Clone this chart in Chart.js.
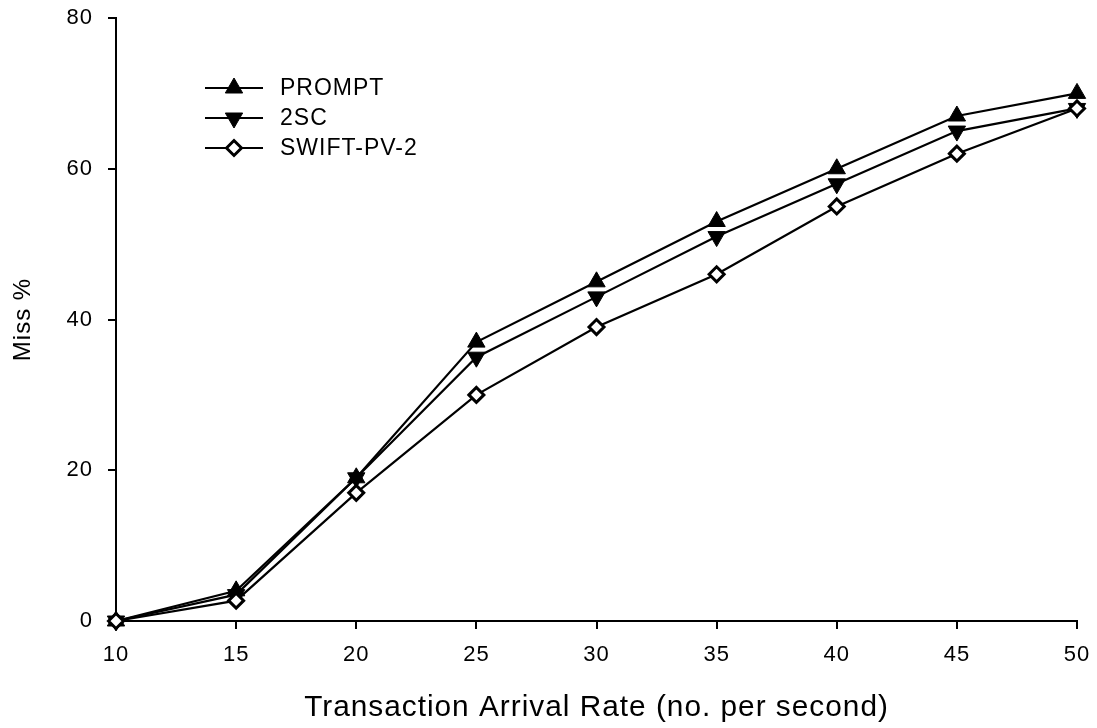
<!DOCTYPE html>
<html>
<head>
<meta charset="utf-8">
<script src="https://cdn.jsdelivr.net/npm/chart.js@4/dist/chart.umd.min.js"></script>
<style>
  body { margin: 0; background: #fff; }
  #wrap { width: 1097px; height: 728px; }
</style>
</head>
<body>
<div id="wrap"><canvas id="myChart" width="1097" height="728"></canvas></div>
<script>
// arrival rates (no. per second)
const rates = [10, 15, 20, 25, 30, 35, 40, 45, 50];
const seriesNames = ['PROMPT', '2SC', 'SWIFT-PV-2'];
const prompt = [0, 4, 19, 37, 45, 53, 60, 67, 70];
const twoSC = [0, 3.5, 19, 35, 43, 51, 58, 65, 68];
const swift = [0, 2.7, 17, 30, 39, 46, 55, 62, 68];
const yTicks = [0, 20, 40, 60, 80];

const fontFamily = '"Liberation Sans", Arial, Helvetica, sans-serif';

function toPoints(values) {
    return rates.map(function (r, i) { return { x: r, y: values[i] }; });
}

// the scanned figure has slightly wide letter spacing
const spacing = {
    id: 'spacing',
    beforeDraw(chart) {
        chart.ctx.letterSpacing = '1px';
    }
};

// legend drawn inside the plot: line segment + marker + label
const insideLegend = {
    id: 'insideLegend',
    afterDraw(chart) {
        const ctx = chart.ctx;
        const area = chart.chartArea;
        const x0 = area.left + 89;
        const y0 = area.top + 70;
        ctx.save();
        chart.data.datasets.forEach(function (ds, i) {
            const y = y0 + i * 30;
            ctx.strokeStyle = '#000';
            ctx.lineWidth = ds.borderWidth;
            ctx.beginPath();
            ctx.moveTo(x0, y);
            ctx.lineTo(x0 + 58, y);
            ctx.stroke();
            ctx.fillStyle = ds.pointBackgroundColor;
            ctx.strokeStyle = ds.pointBorderColor;
            ctx.lineWidth = ds.pointBorderWidth;
            Chart.helpers.drawPoint(ctx, {
                pointStyle: ds.pointStyle,
                rotation: ds.pointRotation || 0,
                radius: ds.pointRadius,
                borderWidth: ds.pointBorderWidth
            }, x0 + 29, y);
            ctx.fillStyle = '#000';
            ctx.font = '23px ' + fontFamily;
            ctx.textBaseline = 'middle';
            ctx.textAlign = 'left';
            ctx.fillText(ds.label, x0 + 75, y + 1);
        });
        ctx.restore();
    }
};

const data = {
    datasets: [{
        label: seriesNames[0],
        data: toPoints(prompt),
        order: 1,
        borderColor: '#000',
        borderWidth: 2.2,
        pointStyle: 'triangle',
        pointRadius: 10,
        pointBackgroundColor: '#000',
        pointBorderColor: '#000',
        pointBorderWidth: 1
    }, {
        label: seriesNames[1],
        data: toPoints(twoSC),
        order: 2,
        borderColor: '#000',
        borderWidth: 2.2,
        pointStyle: 'triangle',
        pointRotation: 180,
        pointRadius: 10,
        pointBackgroundColor: '#000',
        pointBorderColor: '#000',
        pointBorderWidth: 1
    }, {
        // drawn on top of the others (white diamonds stay visible)
        label: seriesNames[2],
        data: toPoints(swift),
        order: 0,
        borderColor: '#000',
        borderWidth: 2.2,
        pointStyle: 'rectRot',
        pointRadius: 7.5,
        pointBackgroundColor: '#fff',
        pointBorderColor: '#000',
        pointBorderWidth: 3
    }]
};

const config = {
    type: 'line',
    data: data,
    plugins: [spacing, insideLegend],
    options: {
        responsive: false,
        animation: false,
        clip: false,
        layout: { padding: { top: 18, right: 20, left: 0, bottom: 0 } },
        plugins: {
            legend: { display: false },
            tooltip: { enabled: false }
        },
        scales: {
            x: {
                type: 'linear',
                min: rates[0],
                max: rates[rates.length - 1],
                afterFit(scale) {
                    scale.height = 107;
                    scale.paddingLeft = 0;
                    scale.paddingRight = 0;
                },
                afterBuildTicks(scale) {
                    scale.ticks = rates.map(function (v) { return { value: v }; });
                },
                border: { color: '#000', width: 2 },
                grid: { drawOnChartArea: false, drawTicks: true, tickLength: 8, tickColor: '#000', lineWidth: 2 },
                ticks: { color: '#000', font: { family: fontFamily, size: 22 }, padding: 13, maxRotation: 0 },
                title: {
                    display: true,
                    text: 'Transaction Arrival Rate (no. per second)',
                    color: '#000',
                    font: { family: fontFamily, size: 29.8 },
                    padding: { bottom: 2 }
                }
            },
            y: {
                min: 0,
                max: 80,
                afterFit(scale) {
                    scale.width = 116;
                    scale.paddingTop = 0;
                    scale.paddingBottom = 0;
                },
                afterBuildTicks(scale) {
                    scale.ticks = yTicks.map(function (v) { return { value: v }; });
                },
                border: { color: '#000', width: 2 },
                grid: { drawOnChartArea: false, drawTicks: true, tickLength: 8, tickColor: '#000', lineWidth: 2 },
                ticks: { color: '#000', font: { family: fontFamily, size: 22 }, padding: 15 },
                title: {
                    display: true,
                    text: 'Miss %',
                    color: '#000',
                    font: { family: fontFamily, size: 24 },
                    padding: { top: 9 }
                }
            }
        }
    }
};

new Chart(document.getElementById('myChart'), config);
</script>
</body>
</html>
